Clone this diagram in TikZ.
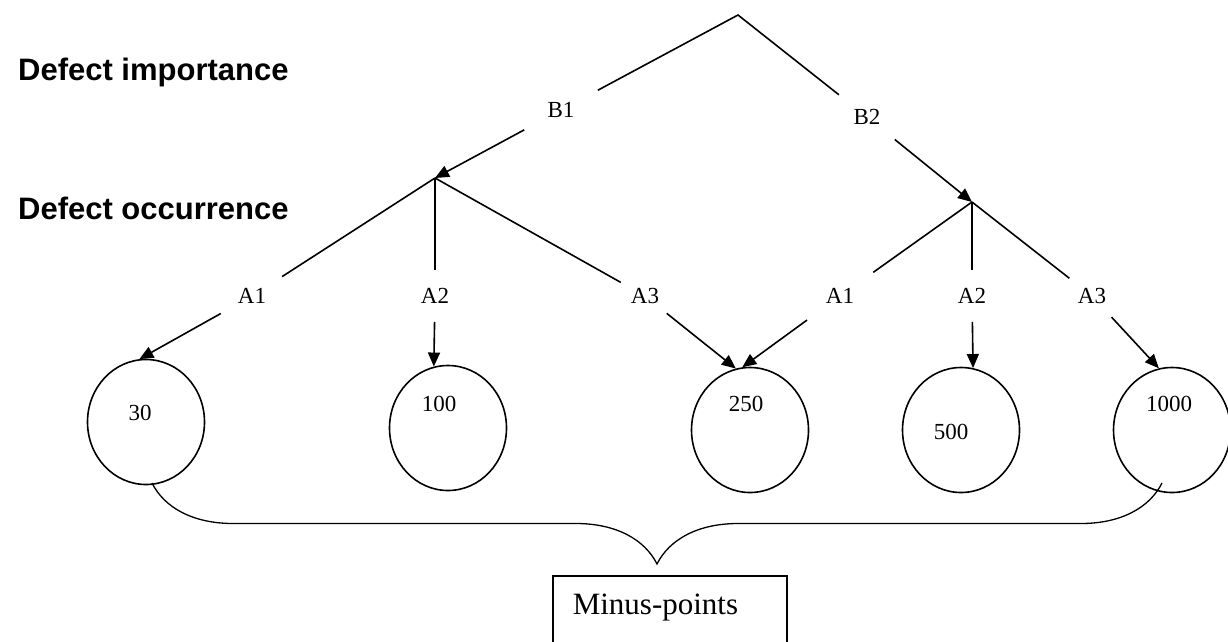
\documentclass[tikz,border=0pt]{standalone}
\usepackage{fontspec}
\setmainfont{Liberation Serif}
\newfontfamily\headfont{Liberation Sans}
\usetikzlibrary{arrows.meta,shapes.geometric,decorations.pathreplacing}

\begin{document}
\begin{tikzpicture}[x=1pt, y=-1pt, line width=1.6pt]
			\tikzstyle{myedgestyle} = [-{Triangle[length=14pt,width=12pt]}]
			\tikzstyle{mylabel} = [circle, inner sep=0pt, font=\fontsize{23}{28}\selectfont]
			\tikzstyle{mycircle} = [ellipse, draw, minimum width=117pt, minimum height=125pt]
			\tikzstyle{myvalue} = [font=\fontsize{23}{28}\selectfont]
			\tikzstyle{myheading} = [anchor=base west, font=\headfont\bfseries\fontsize{31}{37}\selectfont]
			\tikzstyle{mybox} = [draw, anchor=north west, align=left, text width=194pt, text height=21pt, text depth=40pt, inner xsep=20pt, inner ysep=18pt, font=\fontsize{31}{37}\selectfont]
			
			\useasboundingbox (0,0) rectangle (1228,641);
			
			\node [myheading] (H1) at (14,80) {Defect importance};
			\node [myheading] (H2) at (14,219) {Defect occurrence};
			
			\coordinate (T) at (738,15);
			\node [mylabel, minimum size=82pt] (B1) at (561,110) {B1};
			\node [mylabel, minimum size=70pt] (B2) at (867,117) {B2};
			\coordinate (N1) at (435,178);
			\coordinate (N2) at (972,202);
			
			\node [mylabel, minimum size=70pt] (A1l) at (252,296) {A1};
			\node [mylabel, minimum size=50pt] (A2l) at (435,296) {A2};
			\node [mylabel, minimum size=54pt] (A3l) at (645,296) {A3};
			\node [mylabel, minimum size=80pt] (A1r) at (840,296) {A1};
			\node [mylabel, minimum size=50pt] (A2r) at (972,296) {A2};
			\node [mylabel, minimum size=56pt] (A3r) at (1092,296) {A3};
			
			\node [mycircle] (C1) at (146,422) {};
			\node [mycircle] (C2) at (448,428) {};
			\node [mycircle] (C3) at (750,430) {};
			\node [mycircle] (C4) at (961,430) {};
			\node [mycircle] (C5) at (1172,430) {};
			\node [myvalue] (V1) at (140,413) {30};
			\node [myvalue] (V2) at (439,404) {100};
			\node [myvalue] (V3) at (746,404) {250};
			\node [myvalue] (V4) at (951,432) {500};
			\node [myvalue] (V5) at (1169,404) {1000};
			
			\coordinate (L) at (152,483);
			\coordinate (R) at (1162,483);
			\node [mybox] (M) at (552,575) {Minus-points};
			
			\draw (B1) -- (T) -- (B2);
			\draw [myedgestyle] (B1) -- (N1);
			\draw [myedgestyle] (B2) -- (N2);
			
			\draw (N1) -- (A1l);
			\draw (N1) -- (A2l);
			\draw (N1) -- (A3l);
			\draw (N2) -- (A1r);
			\draw (N2) -- (A2r);
			\draw (N2) -- (A3r);
			
			\draw [myedgestyle] (A1l) -- (C1.96);
			\draw [myedgestyle] (A2l) -- (C2.103);
			\draw [myedgestyle] (A3l) -- (C3.103);
			\draw [myedgestyle] (A1r) -- (C3.97);
			\draw [myedgestyle] (A2r) -- (C4.79);
			\draw [myedgestyle] (A3r) -- (C5.102);
			
			\draw [line width=1.3pt, decorate, decoration={brace, mirror, amplitude=81pt}] (L) -- (R);
			
\end{tikzpicture}
\end{document}
